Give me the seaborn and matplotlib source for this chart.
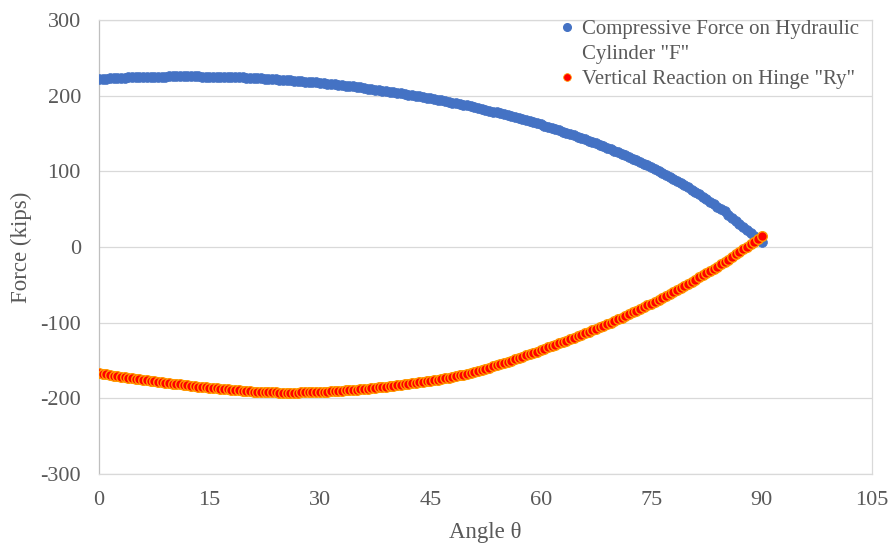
import numpy as np
import pandas as pd
import matplotlib
matplotlib.use("Agg")
import matplotlib.pyplot as plt
from matplotlib.lines import Line2D
import seaborn as sns

# Angle sampled every half degree from 0 to 90
angle = np.arange(0, 90.5, 0.5)

# Compressive force on the hydraulic cylinder, F (kips)
force_f = [
    222.0, 222.3, 222.5, 222.8, 223.0, 223.3, 223.5, 223.8, 224.0, 224.3,
    224.5, 224.6, 224.7, 224.8, 224.9, 225.0, 225.1, 225.2, 225.3, 225.4,
    225.5, 225.5, 225.5, 225.4, 225.4, 225.4, 225.4, 225.4, 225.3, 225.3,
    225.3, 225.2, 225.0, 224.9, 224.7, 224.6, 224.4, 224.3, 224.1, 224.0,
    223.8, 223.5, 223.2, 223.0, 222.7, 222.4, 222.1, 221.8, 221.6, 221.3,
    221.0, 220.6, 220.2, 219.8, 219.4, 219.0, 218.6, 218.2, 217.8, 217.4,
    217.0, 216.5, 215.9, 215.4, 214.8, 214.3, 213.7, 213.2, 212.6, 212.1,
    211.5, 210.8, 210.1, 209.4, 208.7, 208.0, 207.3, 206.6, 205.9, 205.2,
    204.5, 203.7, 202.9, 202.1, 201.3, 200.5, 199.7, 198.9, 198.1, 197.3,
    196.5, 195.6, 194.6, 193.7, 192.7, 191.8, 190.8, 189.9, 188.9, 188.0,
    187.0, 185.9, 184.7, 183.6, 182.4, 181.3, 180.1, 179.0, 177.8, 176.7,
    175.5, 174.2, 172.8, 171.5, 170.1, 168.8, 167.4, 166.1, 164.7, 163.4,
    162.0, 160.4, 158.8, 157.2, 155.6, 154.0, 152.4, 150.8, 149.2, 147.6,
    146.0, 144.2, 142.3, 140.5, 138.6, 136.8, 134.9, 133.1, 131.2, 129.4,
    127.5, 125.4, 123.2, 121.1, 118.9, 116.8, 114.6, 112.5, 110.3, 108.2,
    106.0, 103.3, 100.6, 97.9, 95.2, 92.5, 89.8, 87.1, 84.4, 81.7,
    79.0, 75.8, 72.6, 69.4, 66.2, 63.0, 59.8, 56.6, 53.4, 50.2,
    47.0, 42.9, 38.8, 34.7, 30.6, 26.5, 22.4, 18.3, 14.2, 10.1,
    6.0,
]

# Vertical reaction on the hinge, Ry (kips)
reaction_ry = [
    -167.0, -167.8, -168.5, -169.3, -170.0, -170.8, -171.5, -172.3, -173.0, -173.8,
    -174.5, -175.1, -175.7, -176.3, -176.9, -177.5, -178.1, -178.7, -179.3, -179.9,
    -180.5, -181.1, -181.6, -182.2, -182.7, -183.3, -183.8, -184.4, -184.9, -185.5,
    -186.0, -186.5, -186.9, -187.4, -187.8, -188.3, -188.7, -189.2, -189.6, -190.1,
    -190.5, -190.7, -191.0, -191.2, -191.4, -191.7, -191.9, -192.1, -192.3, -192.6,
    -192.8, -192.7, -192.6, -192.5, -192.4, -192.3, -192.2, -192.1, -192.0, -191.9,
    -191.8, -191.5, -191.2, -190.8, -190.5, -190.2, -189.9, -189.6, -189.2, -188.9,
    -188.6, -188.1, -187.6, -187.1, -186.6, -186.1, -185.5, -185.0, -184.5, -184.0,
    -183.5, -182.9, -182.2, -181.6, -180.9, -180.3, -179.6, -179.0, -178.3, -177.7,
    -177.0, -176.1, -175.2, -174.3, -173.4, -172.5, -171.6, -170.7, -169.8, -168.9,
    -168.0, -166.6, -165.1, -163.7, -162.2, -160.8, -159.3, -157.9, -156.4, -155.0,
    -153.5, -151.8, -150.1, -148.4, -146.7, -145.0, -143.3, -141.6, -139.9, -138.2,
    -136.5, -134.7, -132.8, -131.0, -129.1, -127.3, -125.4, -123.6, -121.7, -119.9,
    -118.0, -116.0, -114.0, -112.0, -110.0, -108.0, -106.0, -104.0, -102.0, -100.0,
    -98.0, -95.7, -93.4, -91.1, -88.8, -86.5, -84.2, -81.9, -79.6, -77.3,
    -75.0, -72.4, -69.8, -67.2, -64.6, -62.0, -59.4, -56.8, -54.2, -51.6,
    -49.0, -46.1, -43.2, -40.3, -37.4, -34.5, -31.6, -28.7, -25.8, -22.9,
    -20.0, -16.6, -13.2, -9.8, -6.4, -3.0, 0.4, 3.8, 7.2, 10.6,
    14.0,
]

x_ticks = [0, 15, 30, 45, 60, 75, 90, 105]
y_ticks = [-300, -200, -100, 0, 100, 200, 300]

label_f_lines = ['Compressive Force on Hydraulic', 'Cylinder "F"']
label_ry = 'Vertical Reaction on Hinge "Ry"'

blue = "#4472C4"
red = "#FF0000"
red_edge = "#FF9900"
text_color = "#595959"
grid_color = "#D9D9D9"

df = pd.DataFrame({"angle": angle, "F": force_f, "Ry": reaction_ry})

sns.set_theme(style="white")
plt.rcParams["font.family"] = ["Liberation Serif", "DejaVu Serif"]

fig = plt.figure(figsize=(8.94, 5.46), dpi=100)
ax = fig.add_axes([0.1107, 0.1319, 0.9754 - 0.1107, 0.9634 - 0.1319])

sns.scatterplot(data=df, x="angle", y="F", ax=ax, color=blue,
                edgecolor=blue, linewidth=0.5, s=50, legend=False, zorder=3)
sns.scatterplot(data=df, x="angle", y="Ry", ax=ax, color=red,
                edgecolor=red_edge, linewidth=1.0, s=48, legend=False,
                zorder=4)

ax.set_xlim(0, 105)
ax.set_ylim(-300, 300)
ax.set_xticks(x_ticks)
ax.set_yticks(y_ticks)
ax.set_xticklabels([str(t) for t in x_ticks])
ax.set_yticklabels([str(t) for t in y_ticks])

ax.grid(axis="y", color=grid_color, linewidth=0.9)
ax.grid(axis="x", visible=False)
ax.set_axisbelow(True)
for side in ("top", "bottom", "right"):
    ax.spines[side].set_color(grid_color)
    ax.spines[side].set_linewidth(0.9)
ax.spines["left"].set_color("#BFBFBF")
ax.spines["left"].set_linewidth(0.9)

ax.tick_params(axis="both", length=0, labelsize=16, colors=text_color)
ax.tick_params(axis="y", pad=13)
ax.tick_params(axis="x", pad=12)

ax.set_xlabel("Angle θ", fontsize=16.5, color=text_color, labelpad=9)
ax.set_ylabel("Force (kips)", fontsize=16.5, color=text_color, labelpad=6)

# Legend: the wrapped first label keeps its marker on the first line
handles = [
    Line2D([], [], ls="none", marker="o", ms=5.5, mfc=blue, mec=blue),
    Line2D([], [], ls="none", marker="o", ms=0, alpha=0),
    Line2D([], [], ls="none", marker="o", ms=5.5, mfc=red, mec=red_edge,
           mew=0.6),
]
labels = [label_f_lines[0], label_f_lines[1], label_ry]
leg = ax.legend(handles, labels, loc="upper left",
                bbox_to_anchor=(0.6275, 0.964),
                bbox_transform=fig.transFigure, frameon=False,
                fontsize=15, handlelength=0.6, handletextpad=0.4,
                borderpad=0, borderaxespad=0, labelspacing=0.25)
for t in leg.get_texts():
    t.set_color(text_color)

fig.savefig("out.png", dpi=100)
